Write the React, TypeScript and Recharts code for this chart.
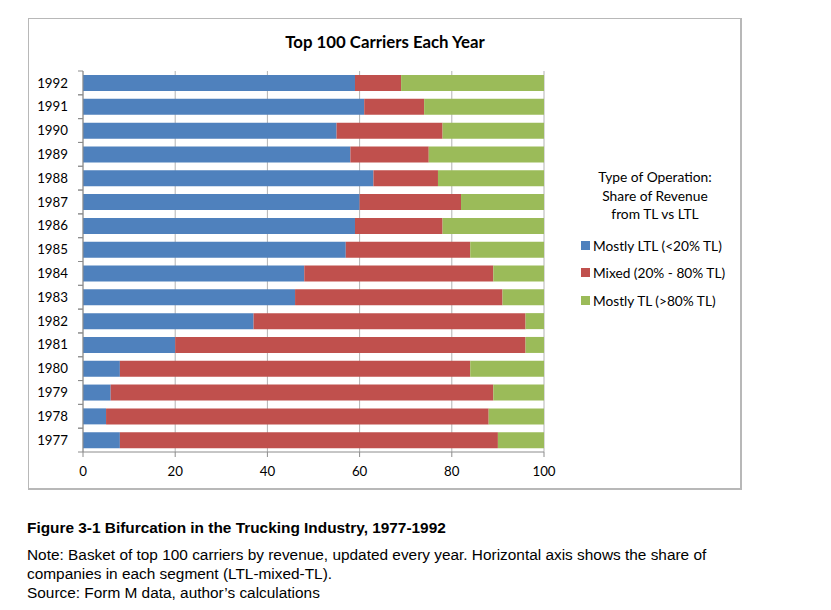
import React from 'react';
import { BarChart, Bar, XAxis, YAxis, CartesianGrid } from 'recharts';

const years = ['1977', '1978', '1979', '1980', '1981', '1982', '1983', '1984', '1985', '1986', '1987', '1988', '1989', '1990', '1991', '1992'];
const mostlyLTL = [8, 5, 6, 8, 20, 37, 46, 48, 57, 59, 60, 63, 58, 55, 61, 59];
const mixed = [82, 83, 83, 76, 76, 59, 45, 41, 27, 19, 22, 14, 17, 23, 13, 10];
const mostlyTL = [10, 12, 11, 16, 4, 4, 9, 11, 16, 22, 18, 23, 25, 22, 26, 31];
const xTicks = [0, 20, 40, 60, 80, 100];

const seriesNames = ['Mostly LTL (<20% TL)', 'Mixed (20% - 80% TL)', 'Mostly TL (>80% TL)'];
const seriesColors = ['#4F81BD', '#C0504D', '#9BBB59'];
const legendTitle = ['Type of Operation:', 'Share of Revenue', 'from TL vs LTL'];

const data = years.map((y, i) => ({ year: y, ltl: mostlyLTL[i], mixed: mixed[i], tl: mostlyTL[i] }));

const W = 831;
const H = 610;
const PLOT_L = 83;
const PLOT_R = 544;
const PLOT_T = 71;
const PLOT_B = 452;
const AXIS = '#8c8c8c';
const GRID = '#b3b3b3';
const FONT = 'Lato, "Noto Sans", sans-serif';
const NARROW = '"Liberation Sans", Arial, sans-serif';

const YTick = (props: any) => {
  const { x, y, payload } = props;
  const band = (PLOT_B - PLOT_T) / years.length;
  return (
    <g>
      <line x1={x - 5} x2={x} y1={y - band / 2} y2={y - band / 2} stroke={AXIS} />
      <line x1={x - 5} x2={x} y1={y + band / 2} y2={y + band / 2} stroke={AXIS} />
      <text x={x - 15} y={y} dy="0.35em" textAnchor="end" fill="#000" fontSize={13.3} fontFamily={FONT}>
        {payload.value}
      </text>
    </g>
  );
};

export default function App() {
  return (
    <div style={{ position: 'absolute', left: 0, top: 0, width: W, height: H, background: '#fff', overflow: 'hidden' }}>
      <div
        style={{
          position: 'absolute',
          left: 28,
          top: 18,
          width: 742 - 28,
          height: 490 - 18,
          border: '1px solid #b8b8b8',
          borderRightWidth: 2,
          borderBottomWidth: 2,
          boxSizing: 'border-box',
        }}
      />
      <div
        style={{
          position: 'absolute',
          left: 185,
          top: 31,
          width: 400,
          textAlign: 'center',
          fontFamily: FONT,
          fontWeight: 'bold',
          fontSize: 16.8,
          lineHeight: '22px',
          color: '#000',
        }}
      >
        Top 100 Carriers Each Year
      </div>
      <div style={{ position: 'absolute', left: 0, top: 0 }}>
        <BarChart
          width={W}
          height={H}
          data={data}
          layout="vertical"
          margin={{ top: PLOT_T, left: 0, right: W - PLOT_R, bottom: H - PLOT_B - 30 }}
          barSize={16}
        >
          <CartesianGrid horizontal={false} vertical={true} stroke={GRID} />
          <XAxis
            type="number"
            domain={[0, 100]}
            ticks={xTicks}
            interval={0}
            height={30}
            tickSize={5}
            tickMargin={10}
            stroke={AXIS}
            tick={{ fill: '#000', fontSize: 13.3, fontFamily: FONT }}
          />
          <YAxis
            type="category"
            dataKey="year"
            reversed
            width={PLOT_L}
            tickSize={0}
            tickMargin={0}
            tickLine={false}
            stroke={AXIS}
            tick={<YTick />}
            interval={0}
          />
          <Bar dataKey="ltl" stackId="a" fill={seriesColors[0]} isAnimationActive={false} name={seriesNames[0]} />
          <Bar dataKey="mixed" stackId="a" fill={seriesColors[1]} isAnimationActive={false} name={seriesNames[1]} />
          <Bar dataKey="tl" stackId="a" fill={seriesColors[2]} isAnimationActive={false} name={seriesNames[2]} />
        </BarChart>
      </div>
      <div style={{ position: 'absolute', left: 560, top: 168, width: 190, fontFamily: FONT, fontSize: 13.8, color: '#000' }}>
        {legendTitle.map((t) => (
          <div key={t} style={{ textAlign: 'center', lineHeight: '18.5px', height: 18.5, width: 190 }}>
            {t}
          </div>
        ))}
      </div>
      {seriesNames.map((n, i) => (
        <div
          key={n}
          style={{
            position: 'absolute',
            left: 581,
            top: 236 + i * 27.8,
            height: 18,
            display: 'flex',
            alignItems: 'center',
            fontFamily: FONT,
            fontSize: 13.7,
            color: '#000',
            whiteSpace: 'nowrap',
          }}
        >
          <span style={{ display: 'inline-block', width: 9, height: 9, background: seriesColors[i], marginRight: 3 }} />
          {n}
        </div>
      ))}
      <div
        style={{
          position: 'absolute',
          left: 27,
          top: 518,
          fontFamily: NARROW,
          fontWeight: 'bold',
          fontSize: 15.4,
          lineHeight: '20px',
          color: '#000',
          whiteSpace: 'nowrap',
        }}
      >
        Figure 3-1 Bifurcation in the Trucking Industry, 1977-1992
      </div>
      <div
        style={{
          position: 'absolute',
          left: 27,
          top: 544.5,
          fontFamily: NARROW,
          fontSize: 15.4,
          lineHeight: '19px',
          color: '#000',
          whiteSpace: 'nowrap',
        }}
      >
        <div>Note: Basket of top 100 carriers by revenue, updated every year. Horizontal axis shows the share of</div>
        <div>companies in each segment (LTL-mixed-TL).</div>
        <div>Source: Form M data, author’s calculations</div>
      </div>
    </div>
  );
}
